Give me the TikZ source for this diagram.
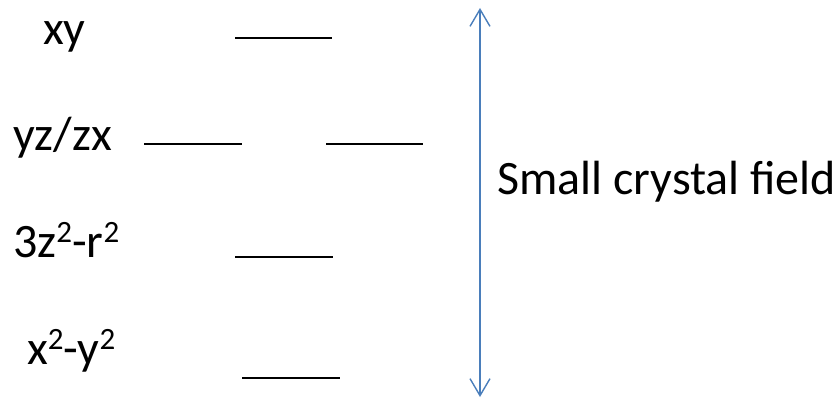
\documentclass[tikz,border=0pt]{standalone}
\usepackage{fontspec}
\setmainfont{Carlito}
\usetikzlibrary{arrows.meta}
\definecolor{arrowblue}{HTML}{4A7EBB}
\newcommand{\sq}{\raisebox{15pt}{\fontsize{31}{31}\selectfont 2}}
\tikzset{
  lbl/.style={anchor=base west, inner sep=0pt, font=\fontsize{48}{48}\selectfont},
  level/.style={draw=black, line width=1.6pt},
  gap/.style={draw=arrowblue, line width=1.4pt, {Straight Barb[length=17pt,width=20pt,line width=1.4pt]}-{Straight Barb[length=17pt,width=20pt,line width=1.4pt]}}
}
\begin{document}
\begin{tikzpicture}[x=1pt,y=-1pt]
\useasboundingbox (0,0) rectangle (836,398);
% labels
\node[lbl] (xy) at (43,45) {xy};
\node[lbl] (yzzx) at (13,151) {yz/zx};
\node[lbl] (zsq) at (13,258) {3z\sq-r\sq};
\node[lbl] (xsq) at (27,364) {x\sq-y\sq};
\node[lbl] (field) at (497,195) {Small crystal field};
% level coordinates
\coordinate (a1) at (235,38);  \coordinate (a2) at (332,38);
\coordinate (b1) at (144,144); \coordinate (b2) at (242,144);
\coordinate (c1) at (326,144); \coordinate (c2) at (423,144);
\coordinate (d1) at (235,257); \coordinate (d2) at (333,257);
\coordinate (e1) at (242,378); \coordinate (e2) at (340,378);
\draw[level] (a1) -- (a2);
\draw[level] (b1) -- (b2);
\draw[level] (c1) -- (c2);
\draw[level] (d1) -- (d2);
\draw[level] (e1) -- (e2);
% arrow
\coordinate (top) at (480,8);
\coordinate (bot) at (480,397);
\draw[gap] (bot) -- (top);
\end{tikzpicture}
\end{document}
